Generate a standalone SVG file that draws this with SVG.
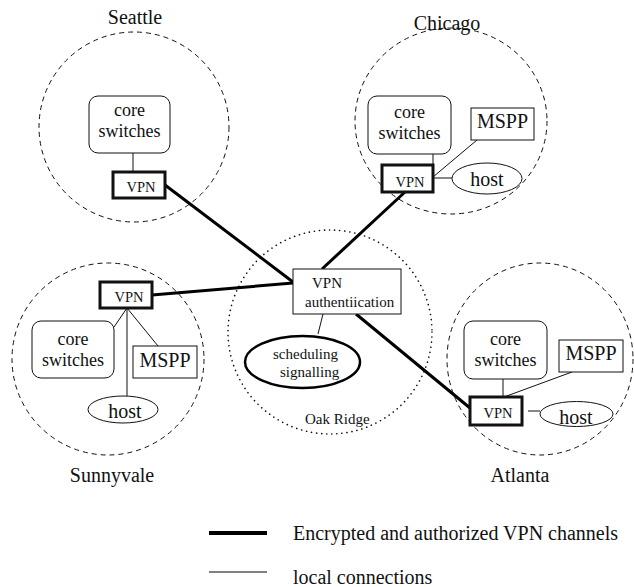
<svg xmlns="http://www.w3.org/2000/svg" width="634" height="587" viewBox="0 0 634 587">
<style>
text{font-family:"Times New Roman",Times,"Liberation Serif","Nimbus Roman","DejaVu Serif",serif;fill:#111}
.lbl{font-size:20px}
.big{font-size:20px;text-anchor:middle}
.cs{font-size:18px;text-anchor:middle}
.sm{font-size:14.5px;text-anchor:middle}
.mid{font-size:15px}
.site{fill:none;stroke:#111;stroke-width:1;stroke-dasharray:5 4}
.oak{fill:none;stroke:#111;stroke-width:1.6;stroke-dasharray:0.1 5;stroke-linecap:round}
.box{fill:#fff;stroke:#111;stroke-width:1}
.vpn{fill:#fff;stroke:#111;stroke-width:3}
.thick{stroke:#000;stroke-width:3;fill:none}
.thin{stroke:#111;stroke-width:1;fill:none}
</style>
<g id="areas">
<circle class="site" cx="134" cy="127" r="95"/>
<ellipse class="site" cx="451" cy="121" rx="96" ry="93"/>
<circle class="site" cx="108" cy="359" r="96"/>
<ellipse class="site" cx="540" cy="359" rx="93" ry="96"/>
<circle class="oak" cx="330" cy="332" r="102"/>
<text class="big" x="135" y="24">Seattle</text>
<text class="big" x="447" y="30">Chicago</text>
<text class="big" x="112" y="482">Sunnyvale</text>
<text class="big" x="520" y="482">Atlanta</text>
<text class="mid" x="305" y="424">Oak Ridge</text>
</g>
<g id="connectors">
<line class="thick" x1="165" y1="185" x2="293" y2="282"/>
<line class="thick" x1="152" y1="295" x2="293" y2="283"/>
<line class="thick" x1="405" y1="192" x2="322" y2="269"/>
<line class="thick" x1="356" y1="314" x2="470" y2="408"/>
<line class="thin" x1="133" y1="153" x2="133" y2="172"/>
<line class="thin" x1="433" y1="154" x2="433" y2="165"/>
<line class="thin" x1="477" y1="140" x2="433" y2="177"/>
<line class="thin" x1="433" y1="178" x2="452" y2="178"/>
<line class="thin" x1="127" y1="308" x2="114" y2="327"/>
<line class="thin" x1="127" y1="308" x2="158" y2="346"/>
<line class="thin" x1="127" y1="308" x2="127" y2="396"/>
<line class="thin" x1="503" y1="379" x2="503" y2="397"/>
<line class="thin" x1="572" y1="372" x2="504" y2="397"/>
<line class="thin" x1="528" y1="411" x2="540" y2="411"/>
<line class="thin" x1="323" y1="314" x2="318" y2="334"/>
</g>
<g id="seattle-core"><rect class="box" x="89" y="96" width="81" height="57" rx="9"/><text class="cs" x="129.5" y="116">core</text><text class="cs" x="129.5" y="137">switches</text></g>
<g id="seattle-vpn"><rect class="vpn" x="113" y="172" width="52" height="26"/><text class="sm" x="141" y="192">VPN</text></g>
<g id="chicago-core"><rect class="box" x="368" y="96" width="83" height="58" rx="9"/><text class="cs" x="409.5" y="118">core</text><text class="cs" x="409.5" y="139">switches</text></g>
<g id="chicago-mspp"><rect class="box" x="471" y="108" width="63" height="32"/><text class="big" x="502.5" y="128">MSPP</text></g>
<g id="chicago-vpn"><rect class="vpn" x="382" y="165" width="51" height="27"/><text class="sm" x="410" y="187">VPN</text></g>
<g id="chicago-host"><ellipse class="box" cx="487" cy="178.5" rx="35" ry="15.5"/><text class="big" x="487" y="186">host</text></g>
<g id="sunnyvale-vpn"><rect class="vpn" x="100" y="282" width="52" height="26"/><text class="sm" x="129" y="302">VPN</text></g>
<g id="sunnyvale-core"><rect class="box" x="32" y="321" width="82" height="57" rx="9"/><text class="cs" x="73" y="345">core</text><text class="cs" x="73" y="366">switches</text></g>
<g id="sunnyvale-mspp"><rect class="box" x="133" y="346" width="64" height="32"/><text class="big" x="165" y="367">MSPP</text></g>
<g id="sunnyvale-host"><ellipse class="box" cx="123" cy="409.5" rx="35" ry="13.5"/><text class="big" x="125" y="418">host</text></g>
<g id="oakridge-auth"><rect class="box" x="293" y="269" width="108" height="45"/><text class="mid" x="312" y="288">VPN</text><text class="mid" x="305" y="307">authentiication</text></g>
<g id="oakridge-sched"><ellipse cx="302.5" cy="362" rx="57.5" ry="26" fill="#fff" stroke="#000" stroke-width="2.5"/><text class="mid" x="273" y="359">scheduling</text><text class="mid" x="280" y="377">signalling</text></g>
<g id="atlanta-core"><rect class="box" x="464" y="321" width="83" height="58" rx="9"/><text class="cs" x="505.5" y="345">core</text><text class="cs" x="505.5" y="366">switches</text></g>
<g id="atlanta-mspp"><rect class="box" x="559" y="340" width="64" height="32"/><text class="big" x="591" y="360">MSPP</text></g>
<g id="atlanta-vpn"><rect class="vpn" x="470" y="397" width="52" height="28"/><text class="sm" x="498" y="418">VPN</text></g>
<g id="atlanta-host"><ellipse class="box" cx="576.5" cy="414" rx="36.5" ry="12.5"/><text class="big" x="576" y="424">host</text></g>
<g id="legend">
<line x1="209" y1="533" x2="267" y2="533" stroke="#000" stroke-width="4"/>
<line x1="209" y1="572" x2="267" y2="572" stroke="#000" stroke-width="1"/>
<text class="lbl" x="293" y="540">Encrypted and authorized VPN channels</text>
<text class="lbl" x="293" y="584">local connections</text>
</g>
</svg>
